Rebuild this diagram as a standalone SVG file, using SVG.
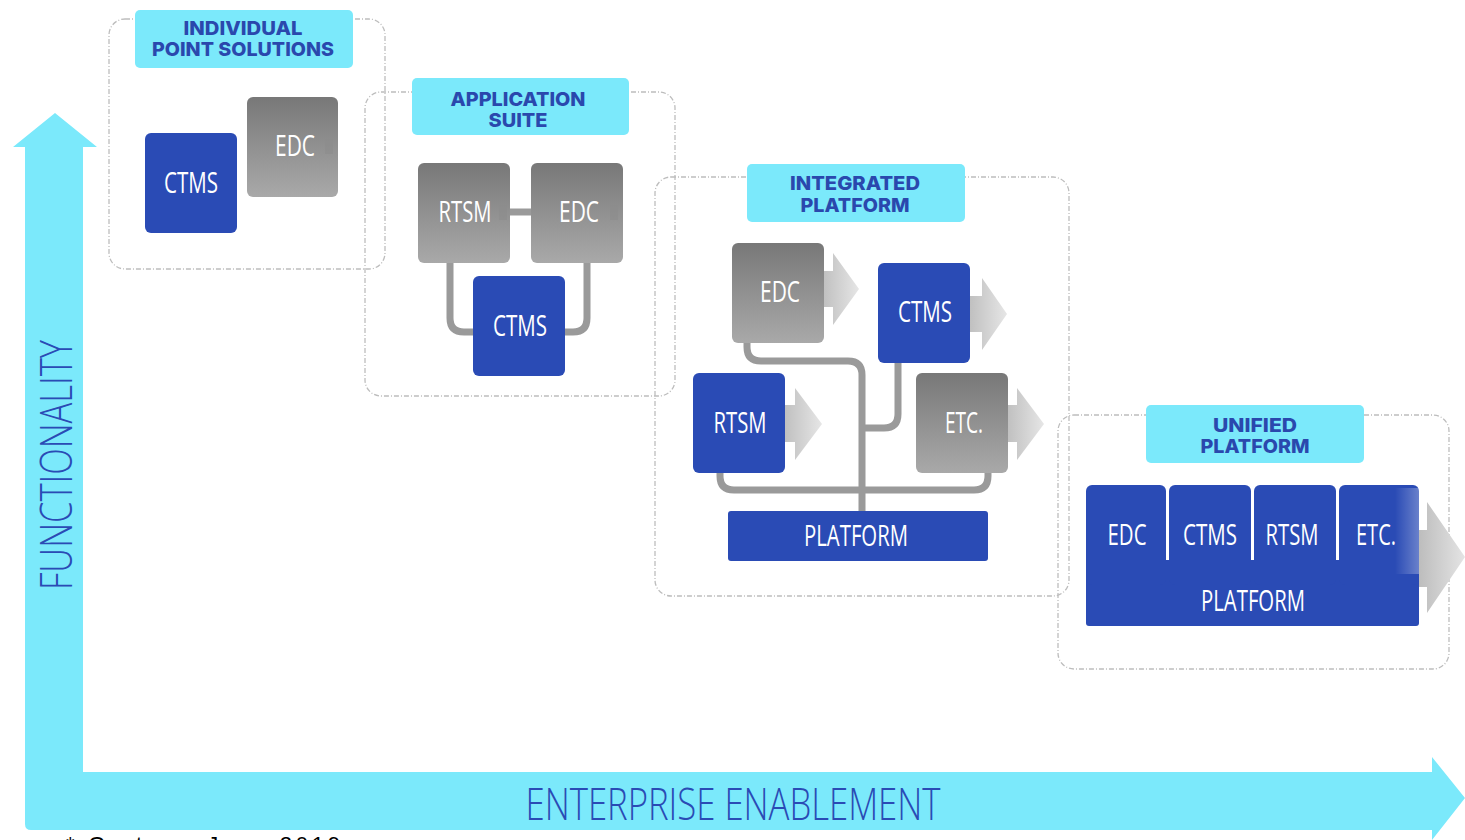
<svg xmlns="http://www.w3.org/2000/svg" width="1465" height="840" viewBox="0 0 1465 840">
  <defs>
    <linearGradient id="grayBox" x1="0" y1="0" x2="0" y2="1">
      <stop offset="0" stop-color="#787878"/>
      <stop offset="1" stop-color="#a9a9a9"/>
    </linearGradient>
    <linearGradient id="outArrow" x1="0" y1="0" x2="1" y2="0">
      <stop offset="0" stop-color="#b4b4b4"/>
      <stop offset="1" stop-color="#e6e6e6"/>
    </linearGradient>
    <linearGradient id="outArrowWide" gradientUnits="userSpaceOnUse" x1="1419" y1="0" x2="1465" y2="0">
      <stop offset="0" stop-color="#bdbdbd"/>
      <stop offset="1" stop-color="#e4e4e4"/>
    </linearGradient>
    <linearGradient id="sheen" gradientUnits="userSpaceOnUse" x1="1395" y1="0" x2="1419" y2="0">
      <stop offset="0" stop-color="#ffffff" stop-opacity="0"/>
      <stop offset="1" stop-color="#ffffff" stop-opacity="0.3"/>
    </linearGradient>
    <style>
      .axis { fill: #7be9fb; }
      .axis-label { font-family: "Open Sans", "Liberation Sans", sans-serif; font-weight: 300; font-size: 45px; fill: #2a4bb5; }
      .stage { fill: none; stroke: #bdbdbd; stroke-width: 1.3; stroke-dasharray: 5 2 1 2; }
      .tag { fill: #7be9fb; }
      .tag-text { font-family: Inter, "Liberation Sans", sans-serif; font-weight: 800; font-size: 19px; fill: #2a48ad; text-anchor: middle; }
      .blue { fill: #2a4bb5; }
      .gray { fill: url(#grayBox); }
      .node-text { font-family: "Open Sans", "Liberation Sans", sans-serif; font-size: 30px; fill: #ffffff; text-anchor: middle; }
      .link { fill: none; stroke: #9a9a9a; stroke-width: 7; }
      .out { fill: url(#outArrow); }
      .stub { fill: #8c8c8c; opacity: 0.6; }
      .note { font-family: "Liberation Sans", Arial, sans-serif; font-size: 22px; fill: #000000; }
    </style>
  </defs>

  <rect width="1465" height="840" fill="#ffffff"/>

  <!-- Axes -->
  <g id="axes">
    <path class="axis" d="M25,147 H13 L55,113 L97,147 H83 V772 H1432 V757 L1465,798 L1432,840 V830 H31 Q25,830 25,824 Z"/>
    <text class="axis-label" transform="translate(72,465) rotate(-90)" text-anchor="middle" textLength="250" lengthAdjust="spacingAndGlyphs">FUNCTIONALITY</text>
    <text class="axis-label" x="733" y="820" text-anchor="middle" textLength="415" lengthAdjust="spacingAndGlyphs">ENTERPRISE ENABLEMENT</text>
  </g>

  <!-- Stage outlines -->
  <g id="stages">
    <rect class="stage" x="109" y="19" width="276" height="250" rx="16"/>
    <rect class="stage" x="365" y="92" width="310" height="304" rx="16"/>
    <rect class="stage" x="655" y="177" width="414" height="419" rx="16"/>
    <rect class="stage" x="1058" y="415" width="391" height="254" rx="16"/>
  </g>

  <!-- Connectors -->
  <g id="connectors">
    <path class="link" d="M510,212 H531" stroke-width="6"/>
    <path class="link" d="M450,263 V318 Q450,332 464,332 H475"/>
    <path class="link" d="M587,263 V318 Q587,332 573,332 H563"/>
    <path class="link" d="M747,343 V347 Q747,361 761,361 H848 Q862,361 862,375 V512"/>
    <path class="link" d="M898,363 V414 Q898,428 884,428 H862"/>
    <path class="link" d="M720,473 V476 Q720,490 734,490 H974 Q988,490 988,476 V472"/>
  </g>

  <!-- Stage 1: individual point solutions -->
  <g id="stage-point">
    <rect class="tag" x="135" y="10" width="218" height="58" rx="5"/>
    <text class="tag-text" x="243" y="35" textLength="119" lengthAdjust="spacingAndGlyphs">INDIVIDUAL</text>
    <text class="tag-text" x="243" y="56" textLength="182" lengthAdjust="spacingAndGlyphs">POINT SOLUTIONS</text>
  </g>
  <g id="p-edc">
    <rect class="gray" x="247" y="97" width="91" height="100" rx="6"/>
    <rect class="stub" x="325" y="139" width="8" height="15"/>
    <text class="node-text" x="295" y="156" textLength="40" lengthAdjust="spacingAndGlyphs">EDC</text>
  </g>
  <g id="p-ctms">
    <rect class="blue" x="145" y="133" width="92" height="100" rx="6"/>
    <text class="node-text" x="191" y="193" textLength="54" lengthAdjust="spacingAndGlyphs">CTMS</text>
  </g>

  <!-- Stage 2: application suite -->
  <g id="stage-suite">
    <rect class="tag" x="412" y="78" width="217" height="57" rx="5"/>
    <text class="tag-text" x="518" y="106" textLength="135" lengthAdjust="spacingAndGlyphs">APPLICATION</text>
    <text class="tag-text" x="518" y="127" textLength="59" lengthAdjust="spacingAndGlyphs">SUITE</text>
  </g>
  <g id="s-rtsm">
    <rect class="gray" x="418" y="163" width="92" height="100" rx="6"/>
    <rect class="stub" x="499" y="205" width="8" height="15"/>
    <text class="node-text" x="465" y="222" textLength="53" lengthAdjust="spacingAndGlyphs">RTSM</text>
  </g>
  <g id="s-edc">
    <rect class="gray" x="531" y="163" width="92" height="100" rx="6"/>
    <rect class="stub" x="610" y="205" width="8" height="15"/>
    <text class="node-text" x="579" y="222" textLength="40" lengthAdjust="spacingAndGlyphs">EDC</text>
  </g>
  <g id="s-ctms">
    <rect class="blue" x="473" y="276" width="92" height="100" rx="6"/>
    <text class="node-text" x="520" y="336" textLength="54" lengthAdjust="spacingAndGlyphs">CTMS</text>
  </g>

  <!-- Stage 3: integrated platform -->
  <g id="stage-integrated">
    <rect class="tag" x="747" y="164" width="218" height="58" rx="5"/>
    <text class="tag-text" x="855" y="190" textLength="130" lengthAdjust="spacingAndGlyphs">INTEGRATED</text>
    <text class="tag-text" x="855" y="212" textLength="109" lengthAdjust="spacingAndGlyphs">PLATFORM</text>
  </g>
  <g id="i-edc">
    <path class="out" d="M812,271 H833 V253 L859,289 L833,325 V307 H812 Z"/>
    <rect class="gray" x="732" y="243" width="92" height="100" rx="6"/>
    <text class="node-text" x="780" y="302" textLength="40" lengthAdjust="spacingAndGlyphs">EDC</text>
  </g>
  <g id="i-ctms">
    <path class="out" d="M958,296 H982 V278 L1007,314 L982,350 V332 H958 Z"/>
    <rect class="blue" x="878" y="263" width="92" height="100" rx="6"/>
    <text class="node-text" x="925" y="322" textLength="54" lengthAdjust="spacingAndGlyphs">CTMS</text>
  </g>
  <g id="i-rtsm">
    <path class="out" d="M773,405 H795 V388 L822,424 L795,460 V442 H773 Z"/>
    <rect class="blue" x="693" y="373" width="92" height="100" rx="6"/>
    <text class="node-text" x="740" y="433" textLength="53" lengthAdjust="spacingAndGlyphs">RTSM</text>
  </g>
  <g id="i-etc">
    <path class="out" d="M996,405 H1017 V388 L1044,424 L1017,460 V442 H996 Z"/>
    <rect class="gray" x="916" y="373" width="92" height="100" rx="6"/>
    <text class="node-text" x="964" y="433" textLength="38" lengthAdjust="spacingAndGlyphs">ETC.</text>
  </g>
  <g id="i-platform">
    <rect class="blue" x="728" y="511" width="260" height="50" rx="3"/>
    <text class="node-text" x="856" y="546" textLength="104" lengthAdjust="spacingAndGlyphs">PLATFORM</text>
  </g>

  <!-- Stage 4: unified platform -->
  <g id="stage-unified">
    <rect class="tag" x="1146" y="405" width="218" height="58" rx="5"/>
    <text class="tag-text" x="1255" y="432" textLength="84" lengthAdjust="spacingAndGlyphs">UNIFIED</text>
    <text class="tag-text" x="1255" y="453" textLength="109" lengthAdjust="spacingAndGlyphs">PLATFORM</text>
  </g>
  <g id="u-platform">
    <path d="M1410,530 H1427 V502 L1465,557 L1427,613 V587 H1410 Z" fill="url(#outArrowWide)"/>
    <rect class="blue" x="1086" y="570" width="333" height="56" rx="3"/>
    <rect class="blue" x="1086" y="485" width="80" height="100" rx="6"/>
    <rect class="blue" x="1169" y="485" width="82" height="100" rx="6"/>
    <rect class="blue" x="1254" y="485" width="82" height="100" rx="6"/>
    <rect class="blue" x="1339" y="485" width="80" height="100" rx="6"/>
    <rect class="blue" x="1086" y="560" width="333" height="20"/>
    <rect x="1395" y="488" width="24" height="86" fill="url(#sheen)"/>
    <text class="node-text" x="1127" y="545" textLength="39" lengthAdjust="spacingAndGlyphs">EDC</text>
    <text class="node-text" x="1210" y="545" textLength="54" lengthAdjust="spacingAndGlyphs">CTMS</text>
    <text class="node-text" x="1292" y="545" textLength="53" lengthAdjust="spacingAndGlyphs">RTSM</text>
    <text class="node-text" x="1376" y="545" textLength="40" lengthAdjust="spacingAndGlyphs">ETC.</text>
    <text class="node-text" x="1253" y="611" textLength="104" lengthAdjust="spacingAndGlyphs">PLATFORM</text>
  </g>

  <!-- Source note -->
  <text class="note" x="66" y="852" textLength="274" lengthAdjust="spacing">* Gartner, June 2019</text>
</svg>
